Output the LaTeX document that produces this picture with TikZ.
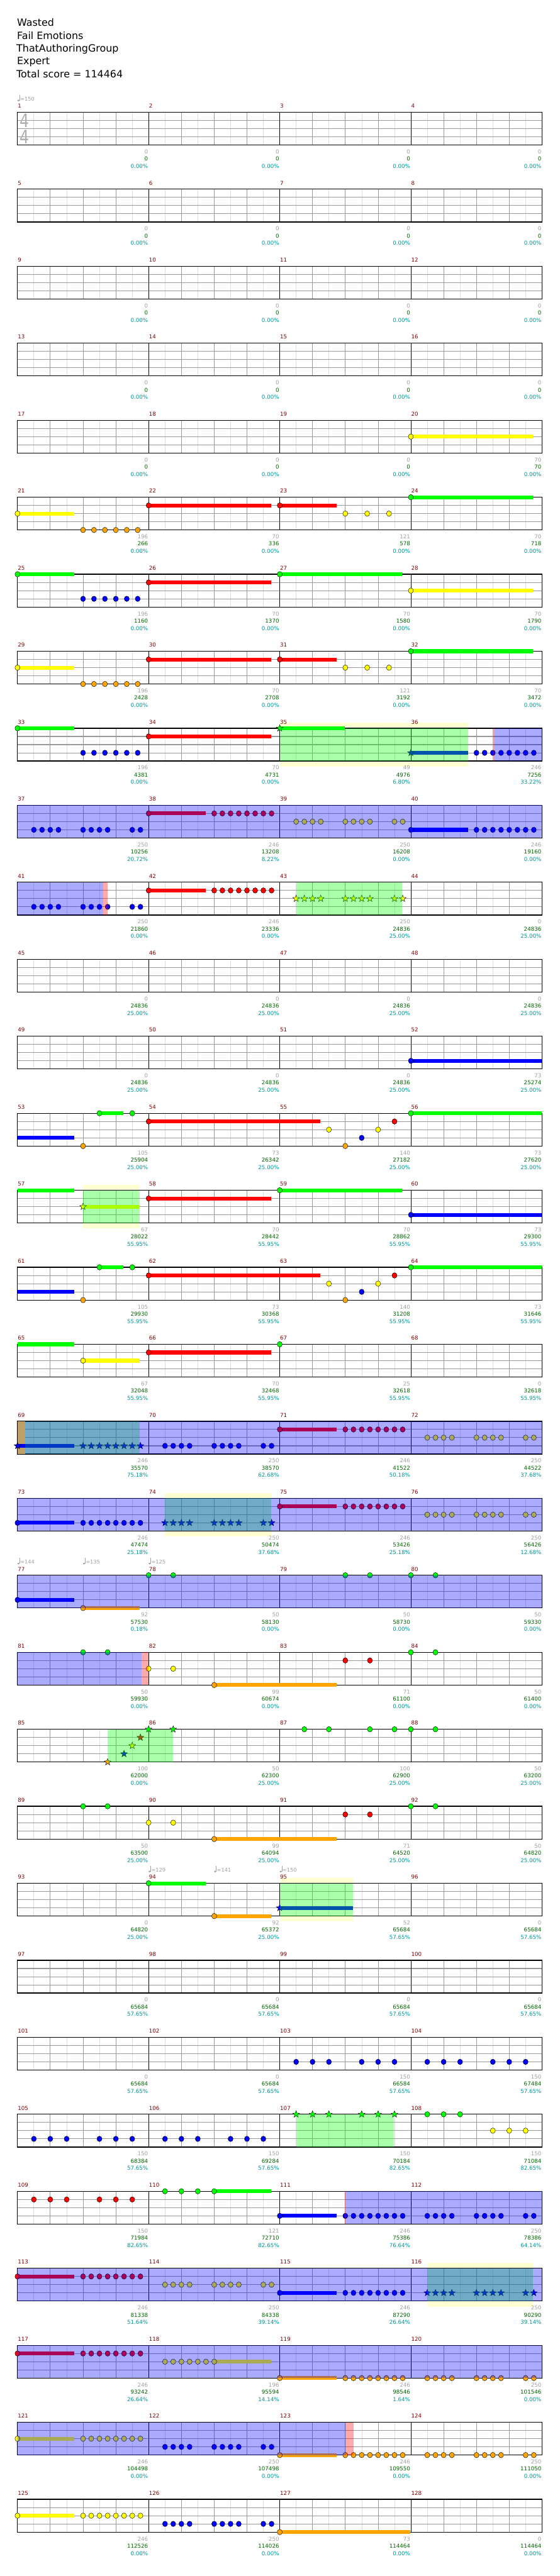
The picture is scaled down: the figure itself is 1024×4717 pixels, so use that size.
\documentclass[tikz,border=0pt]{standalone}
\usepackage{fontspec}
\usepackage{graphicx}
\setmainfont{DejaVu Sans}
\definecolor{nG}{RGB}{0,255,0}
\definecolor{nR}{RGB}{255,0,0}
\definecolor{nY}{RGB}{255,255,0}
\definecolor{nB}{RGB}{0,0,255}
\definecolor{nO}{RGB}{255,165,0}
\definecolor{haloc}{RGB}{255,255,210}
\definecolor{tanc}{RGB}{190,160,100}
\definecolor{mnum}{RGB}{128,0,0}
\definecolor{gnum}{RGB}{160,160,160}
\definecolor{snum}{RGB}{0,100,0}
\definecolor{pnum}{RGB}{0,150,150}
\definecolor{beatc}{RGB}{153,153,153}
\definecolor{halfc}{RGB}{221,221,221}
\definecolor{tsc}{RGB}{175,175,175}
\newcommand\numfont{\fontsize{10}{12}\selectfont}
\newcommand\tfont{\fontsize{9.5}{11}\selectfont}
\newcommand\hfont{\fontsize{18.3}{22}\selectfont}
\newcommand\setrow[1]{\pgfmathsetmacro\T{205.5+141*(#1)}}
\newcommand\nn[3]{\filldraw[line width=0.5pt, fill=#3, draw=black] ({32+60*(#1)},{\T+15*(#2)}) ellipse (4.6pt and 5pt);}
\newcommand\sn[3]{\filldraw[line width=0.5pt, fill=#3, draw=black] ({32+60*(#1)},{\T+15*(#2)}) +(-90:6.5) -- +(-54:2.7) -- +(-18:6.5) -- +(18:2.7) -- +(54:6.5) -- +(90:2.7) -- +(126:6.5) -- +(162:2.7) -- +(198:6.5) -- +(234:2.7) -- cycle;}
\newcommand\susN[4]{\fill[#4] ({32+60*(#1)},{\T+15*(#3)-3.5}) rectangle ({32+60*(#2)},{\T+15*(#3)+3.5});}
\newcommand\holdN[4]{\susN{#1}{#2}{#3}{#4}\nn{#1}{#3}{#4}}
\newcommand\sholdN[4]{\susN{#1}{#2}{#3}{#4}\sn{#1}{#3}{#4}}
\def\eiL{0,0.25,0.5,0.75,1,1.25,1.5,1.75}
\def\paL{0.5,0.75,1,1.25,2,2.25,2.5,2.75,3.5,3.75}
\newcommand\noteE[3]{\foreach \b in \eiL {\nn{\b+#3}{#1}{#2}}}
\newcommand\noteP[3]{\foreach \b in \paL {\nn{\b+#3}{#1}{#2}}}
\newcommand\starE[3]{\foreach \b in \eiL {\sn{\b+#3}{#1}{#2}}}
\newcommand\starP[3]{\foreach \b in \paL {\sn{\b+#3}{#1}{#2}}}
\newcommand\noteL[3]{\foreach \b in {#3} {\nn{\b}{#1}{#2}}}
\newcommand\starL[3]{\foreach \b in {#3} {\sn{\b}{#1}{#2}}}
\newcommand\odz[2]{\fill[blue, opacity=0.3333] ({32+60*(#1)},\T) rectangle ({32+60*(#2)},{\T+60});}
\newcommand\spz[2]{\fill[green, opacity=0.3333] ({32+60*(#1)},\T) rectangle ({32+60*(#2)},{\T+60});}
\newcommand\pinkz[2]{\fill[red, opacity=0.3333] ({32+60*(#1)},\T) rectangle ({32+60*(#2)},{\T+60});}
\newcommand\tanz[2]{\fill[tanc] ({32+60*(#1)},\T) rectangle ({32+60*(#2)},{\T+60});}
\newcommand\haloR[3]{\pgfmathsetmacro\T{205.5+141*(#1)}\fill[haloc] ({32+60*(#2)},{\T-10}) rectangle ({32+60*(#3)},{\T+70});}
\newcommand\tempoN[3]{\fill[gnum] ({32+60*(#1)+1.8},{\T-21.5}) ellipse (2.2pt and 1.6pt);
 \draw[gnum, line width=0.6pt] ({32+60*(#1)+3.7},{\T-21.5}) -- ++(0,-10);
 \node[anchor=base west, text=gnum, font=\tfont, inner sep=0] (#3) at ({32+60*(#1)+4.8},{\T-20.5}) {=#2};}
\newcommand\scoresN[2]{\pgfmathsetmacro\T{205.5+141*(#1)}%
 \foreach \vg/\vs/\vp [count=\k from 0] in {#2}{%
  \node[anchor=base east, text=gnum, font=\numfont, inner sep=0] (g-#1-\k) at ({271+240*\k},{\T+76}) {\vg};
  \node[anchor=base east, text=snum, font=\numfont, inner sep=0] (s-#1-\k) at ({271+240*\k},{\T+89}) {\vs};
  \node[anchor=base east, text=pnum, font=\numfont, inner sep=0] (p-#1-\k) at ({271+240*\k},{\T+102.5}) {\vp\%};
 }}
\begin{document}
\begin{tikzpicture}[x=1pt,y=-1pt]
\useasboundingbox (0,0) rectangle (1024,4717);
\fill[white] (0,0) rectangle (1024,4717);
% header
\node[anchor=base west, inner sep=0, font=\hfont] (title) at (31,48.3) {Wasted};
\node[anchor=base west, inner sep=0, font=\hfont] (artist) at (31,71.7) {Fail Emotions};
\node[anchor=base west, inner sep=0, font=\hfont] (author) at (30,95) {ThatAuthoringGroup};
\node[anchor=base west, inner sep=0, font=\hfont] (diff) at (31,118.3) {Expert};
\node[anchor=base west, inner sep=0, font=\hfont] (total) at (30,141.7) {Total score = 114464};
% halos
\haloR{8}{8}{13.75}
\haloR{14}{2}{3.73}
\haloR{18}{4.5}{7.73}
\haloR{23}{8}{10.24}
\haloR{28}{12.5}{15.73}
% staffs
\foreach \r in {0,...,31}{
 \pgfmathsetmacro\T{205.5+141*\r}
 \fill[white] (32,\T) rectangle (992,{\T+60});
 \foreach \k in {0,...,15} \draw[halfc, line width=0.8pt] ({62+60*\k},\T) -- ({62+60*\k},{\T+60});
 \foreach \k in {1,2,3,5,6,7,9,10,11,13,14,15} \draw[beatc, line width=0.9pt] ({32+60*\k},\T) -- ({32+60*\k},{\T+60});
 \foreach \k in {1,2,3} \draw[beatc, line width=1.2pt] (32,{\T+15*\k}) -- (992,{\T+15*\k});
 \foreach \k in {1,2,3} \draw[black, line width=0.8pt] ({32+240*\k},\T) -- ({32+240*\k},{\T+60});
 \draw[black, line width=1.4pt] (32,\T) rectangle (992,{\T+60});
 \foreach \k in {0,...,3}{
  \pgfmathtruncatemacro\mm{4*\r+\k+1}
  \node[anchor=base west, text=mnum, font=\numfont, inner sep=0] (m\mm) at ({32.5+240*\k},{\T-7.8}) {\mm};
 }
}
% time signature and first tempo
\node[text=tsc, font=\fontsize{34}{34}\selectfont, inner sep=0] (ts1) at (45.4,220.5) {\scalebox{0.8}[1]{4}};
\node[text=tsc, font=\fontsize{34}{34}\selectfont, inner sep=0] (ts2) at (45.4,250.5) {\scalebox{0.8}[1]{4}};
\setrow{0}\tempoN{0}{150}{t1}
% row 4
\setrow{4}\holdN{12}{15.73}{2}{nY}
% row 5
\setrow{5}\holdN{0}{1.73}{2}{nY}\noteL{4}{nO}{2,2.333,2.667,3,3.333,3.667}
\holdN{4}{7.73}{1}{nR}\holdN{8}{9.73}{1}{nR}\noteL{2}{nY}{10,10.667,11.333}\holdN{12}{15.73}{0}{nG}
% row 6
\setrow{6}\holdN{0}{1.73}{0}{nG}\noteL{3}{nB}{2,2.333,2.667,3,3.333,3.667}
\holdN{4}{7.73}{1}{nR}\holdN{8}{11.74}{0}{nG}\holdN{12}{15.73}{2}{nY}
% row 7
\setrow{7}\holdN{0}{1.73}{2}{nY}\noteL{4}{nO}{2,2.333,2.667,3,3.333,3.667}
\holdN{4}{7.73}{1}{nR}\holdN{8}{9.73}{1}{nR}\noteL{2}{nY}{10,10.667,11.333}\holdN{12}{15.73}{0}{nG}
% row 8
\setrow{8}\holdN{0}{1.73}{0}{nG}\noteL{3}{nB}{2,2.333,2.667,3,3.333,3.667}
\holdN{4}{7.73}{1}{nR}\sholdN{8}{9.98}{0}{nG}\sholdN{12}{13.75}{3}{nB}\noteE{3}{nB}{14}
\spz{8}{13.75}\pinkz{14.49}{14.54}\odz{14.54}{16}
% row 9
\setrow{9}\noteP{3}{nB}{0}\holdN{4}{5.75}{1}{nR}\noteE{1}{nR}{6}\noteP{2}{nY}{8}
\holdN{12}{13.75}{3}{nB}\noteE{3}{nB}{14}\odz{0}{16}
% row 10
\setrow{10}\noteP{3}{nB}{0}\holdN{4}{5.75}{1}{nR}\noteE{1}{nR}{6}\starP{2}{nY}{8}
\spz{8.5}{11.74}\odz{0}{2.61}\pinkz{2.61}{2.74}
% row 12
\setrow{12}\holdN{12}{16}{3}{nB}
% row 13
\setrow{13}\susN{0}{1.73}{3}{nB}\nn{2}{4}{nO}\holdN{2.5}{3.23}{0}{nG}\nn{3.5}{0}{nG}
\holdN{4}{9.24}{1}{nR}\nn{9.5}{2}{nY}\nn{10}{4}{nO}\nn{10.5}{3}{nB}\nn{11}{2}{nY}\nn{11.5}{1}{nR}\holdN{12}{16}{0}{nG}
% row 14
\setrow{14}\susN{0}{1.73}{0}{nG}\sholdN{2}{3.73}{2}{nY}\spz{2}{3.73}
\holdN{4}{7.73}{1}{nR}\holdN{8}{11.74}{0}{nG}\holdN{12}{16}{3}{nB}
% row 15
\setrow{15}\susN{0}{1.73}{3}{nB}\nn{2}{4}{nO}\holdN{2.5}{3.23}{0}{nG}\nn{3.5}{0}{nG}
\holdN{4}{9.24}{1}{nR}\nn{9.5}{2}{nY}\nn{10}{4}{nO}\nn{10.5}{3}{nB}\nn{11}{2}{nY}\nn{11.5}{1}{nR}\holdN{12}{16}{0}{nG}
% row 16
\setrow{16}\susN{0}{1.73}{0}{nG}\holdN{2}{3.73}{2}{nY}\holdN{4}{7.73}{1}{nR}\nn{8}{0}{nG}
% row 17
\setrow{17}\tanz{0}{0.24}\sholdN{0}{1.73}{3}{nB}\starE{3}{nB}{2}\noteP{3}{nB}{4}
\holdN{8}{9.73}{1}{nR}\noteE{1}{nR}{10}\noteP{2}{nY}{12}
\spz{0.24}{3.73}\odz{0.24}{16}
% row 18
\setrow{18}\holdN{0}{1.73}{3}{nB}\noteE{3}{nB}{2}\starP{3}{nB}{4}\spz{4.5}{7.73}
\holdN{8}{9.73}{1}{nR}\noteE{1}{nR}{10}\noteP{2}{nY}{12}\odz{0}{16}
% row 19
\setrow{19}\tempoN{0}{144}{t2}\tempoN{2}{135}{t3}\tempoN{4}{125}{t4}
\holdN{0}{1.73}{3}{nB}\holdN{2}{3.73}{4}{nO}\noteL{0}{nG}{4,4.75,10,10.75,12,12.75}\odz{0}{16}
% row 20
\setrow{20}\noteL{0}{nG}{2,2.75}\noteL{2}{nY}{4,4.75}\holdN{6}{9.73}{4}{nO}\noteL{1}{nR}{10,10.75}\noteL{0}{nG}{12,12.75}
\odz{0}{3.78}\pinkz{3.78}{4}
% row 21
\setrow{21}\sn{2.75}{4}{nO}\sn{3.25}{3}{nB}\sn{3.5}{2}{nY}\sn{3.75}{1}{nR}\sn{4}{0}{nG}\sn{4.75}{0}{nG}
\spz{2.74}{4.75}\noteL{0}{nG}{8.75,9.5,10.75,11.5,12,12.75}
% row 22
\setrow{22}\noteL{0}{nG}{2,2.75}\noteL{2}{nY}{4,4.75}\holdN{6}{9.73}{4}{nO}\noteL{1}{nR}{10,10.75}\noteL{0}{nG}{12,12.75}
% row 23
\setrow{23}\tempoN{4}{129}{t5}\tempoN{6}{141}{t6}\tempoN{8}{150}{t7}
\holdN{4}{5.75}{0}{nG}\holdN{6}{7.73}{4}{nO}\sholdN{8}{10.24}{3}{nB}\spz{8}{10.24}
% row 25
\setrow{25}\noteL{3}{nB}{8.5,9,9.5,10.5,11,11.5,12.5,13,13.5,14.5,15,15.5}
% row 26
\setrow{26}\noteL{3}{nB}{0.5,1,1.5,2.5,3,3.5,4.5,5,5.5,6.5,7,7.5}\starL{0}{nG}{8.5,9,9.5,10.5,11,11.5}\spz{8.5}{11.49}
\noteL{0}{nG}{12.5,13,13.5}\noteL{2}{nY}{14.5,15,15.5}
% row 27
\setrow{27}\noteL{1}{nR}{0.5,1,1.5,2.5,3,3.5}\noteL{0}{nG}{4.5,5,5.5}\holdN{6}{7.73}{0}{nG}
\holdN{8}{9.73}{3}{nB}\noteE{3}{nB}{10}\noteP{3}{nB}{12}\pinkz{9.99}{10.03}\odz{10.03}{16}
% row 28
\setrow{28}\holdN{0}{1.73}{1}{nR}\noteE{1}{nR}{2}\noteP{2}{nY}{4}\holdN{8}{9.73}{3}{nB}\noteE{3}{nB}{10}
\starP{3}{nB}{12}\spz{12.5}{15.73}\odz{0}{16}
% row 29
\setrow{29}\holdN{0}{1.73}{1}{nR}\noteE{1}{nR}{2}\noteL{2}{nY}{4.5,4.75,5,5.25,5.5,5.75}\holdN{6}{7.73}{2}{nY}
\holdN{8}{9.73}{4}{nO}\noteE{4}{nO}{10}\noteP{4}{nO}{12}\odz{0}{16}
% row 30
\setrow{30}\holdN{0}{1.73}{2}{nY}\noteE{2}{nY}{2}\noteP{3}{nB}{4}\holdN{8}{9.73}{4}{nO}\noteE{4}{nO}{10}\noteP{4}{nO}{12}
\odz{0}{10.03}\pinkz{10.03}{10.25}
% row 31
\setrow{31}\holdN{0}{1.73}{2}{nY}\noteE{2}{nY}{2}\noteP{3}{nB}{4}\holdN{8}{11.99}{4}{nO}
% scores
\scoresN{0}{0/0/0.00,0/0/0.00,0/0/0.00,0/0/0.00}
\scoresN{1}{0/0/0.00,0/0/0.00,0/0/0.00,0/0/0.00}
\scoresN{2}{0/0/0.00,0/0/0.00,0/0/0.00,0/0/0.00}
\scoresN{3}{0/0/0.00,0/0/0.00,0/0/0.00,0/0/0.00}
\scoresN{4}{0/0/0.00,0/0/0.00,0/0/0.00,70/70/0.00}
\scoresN{5}{196/266/0.00,70/336/0.00,121/578/0.00,70/718/0.00}
\scoresN{6}{196/1160/0.00,70/1370/0.00,70/1580/0.00,70/1790/0.00}
\scoresN{7}{196/2428/0.00,70/2708/0.00,121/3192/0.00,70/3472/0.00}
\scoresN{8}{196/4381/0.00,70/4731/0.00,49/4976/6.80,246/7256/33.22}
\scoresN{9}{250/10256/20.72,246/13208/8.22,250/16208/0.00,246/19160/0.00}
\scoresN{10}{250/21860/0.00,246/23336/0.00,250/24836/25.00,0/24836/25.00}
\scoresN{11}{0/24836/25.00,0/24836/25.00,0/24836/25.00,0/24836/25.00}
\scoresN{12}{0/24836/25.00,0/24836/25.00,0/24836/25.00,73/25274/25.00}
\scoresN{13}{105/25904/25.00,73/26342/25.00,140/27182/25.00,73/27620/25.00}
\scoresN{14}{67/28022/55.95,70/28442/55.95,70/28862/55.95,73/29300/55.95}
\scoresN{15}{105/29930/55.95,73/30368/55.95,140/31208/55.95,73/31646/55.95}
\scoresN{16}{67/32048/55.95,70/32468/55.95,25/32618/55.95,0/32618/55.95}
\scoresN{17}{246/35570/75.18,250/38570/62.68,246/41522/50.18,250/44522/37.68}
\scoresN{18}{246/47474/25.18,250/50474/37.68,246/53426/25.18,250/56426/12.68}
\scoresN{19}{92/57530/0.18,50/58130/0.00,50/58730/0.00,50/59330/0.00}
\scoresN{20}{50/59930/0.00,99/60674/0.00,71/61100/0.00,50/61400/0.00}
\scoresN{21}{100/62000/0.00,50/62300/25.00,100/62900/25.00,50/63200/25.00}
\scoresN{22}{50/63500/25.00,99/64094/25.00,71/64520/25.00,50/64820/25.00}
\scoresN{23}{0/64820/25.00,92/65372/25.00,52/65684/57.65,0/65684/57.65}
\scoresN{24}{0/65684/57.65,0/65684/57.65,0/65684/57.65,0/65684/57.65}
\scoresN{25}{0/65684/57.65,0/65684/57.65,150/66584/57.65,150/67484/57.65}
\scoresN{26}{150/68384/57.65,150/69284/57.65,150/70184/82.65,150/71084/82.65}
\scoresN{27}{150/71984/82.65,121/72710/82.65,246/75386/76.64,250/78386/64.14}
\scoresN{28}{246/81338/51.64,250/84338/39.14,246/87290/26.64,250/90290/39.14}
\scoresN{29}{246/93242/26.64,196/95594/14.14,246/98546/1.64,250/101546/0.00}
\scoresN{30}{246/104498/0.00,250/107498/0.00,246/109550/0.00,250/111050/0.00}
\scoresN{31}{246/112526/0.00,250/114026/0.00,73/114464/0.00,0/114464/0.00}
\end{tikzpicture}
\end{document}
